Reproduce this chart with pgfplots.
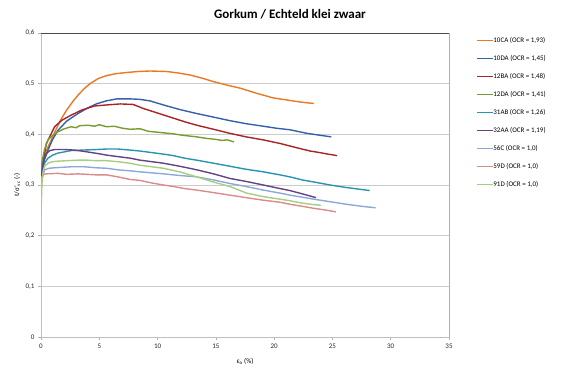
\documentclass[border=0pt]{standalone}
\usepackage{pgfplots}
\pgfplotsset{compat=1.18}
\usepackage{fontspec}
\setmainfont{Carlito}
\definecolor{cA}{RGB}{232,121,38}
\definecolor{cB}{RGB}{54,96,170}
\definecolor{cC}{RGB}{168,36,40}
\definecolor{cD}{RGB}{118,156,50}
\definecolor{cE}{RGB}{40,148,176}
\definecolor{cF}{RGB}{100,66,132}
\definecolor{cG}{RGB}{140,168,216}
\definecolor{cH}{RGB}{218,140,140}
\definecolor{cI}{RGB}{168,204,128}
\begin{document}
\begin{tikzpicture}[x=1pt,y=1pt]
\useasboundingbox (0,0) rectangle (581,377);
\node[font=\bfseries\fontsize{13}{15}\selectfont] at (290,363) {Gorkum / Echteld klei zwaar};
\begin{axis}[
  at={(41pt,40pt)}, anchor=south west,
  scale only axis, width=408pt, height=304pt,
  xmin=0, xmax=35, ymin=0, ymax=0.6,
  xtick={0,5,...,35}, ytick={0,0.1,0.2,0.3,0.4,0.5,0.6},
  /pgf/number format/assume math mode=true,
  /pgf/number format/use comma,
  yticklabel style={/pgf/number format/fixed, /pgf/number format/precision=1},
  ticklabel style={font=\fontsize{7}{8}\selectfont, text=black!85},
  ymajorgrids, grid style={gray!40, line width=0.8pt},
  axis line style={gray!50, line width=0.8pt},
  tick pos=left, tick align=outside, major tick length=3pt,
  tick style={gray!60, line width=0.6pt},
  xlabel={ε\textsubscript{a} (\%)},
  ylabel={t/σ'\textsubscript{vc} (-)},
  label style={font=\fontsize{7}{8}\selectfont},
  xlabel style={at={(axis description cs:0.5,-0.079)}, anchor=center},
  ylabel style={at={(axis description cs:-0.0588,0.5)}, anchor=center},
  legend style={at={(1.066,0.985)}, anchor=north west, draw=none, fill=none,
    inner sep=0pt, font=\fontsize{7}{8}\selectfont, row sep=12pt,
    nodes={inner sep=0pt, text height=5pt, text depth=1pt},
    /tikz/every even column/.append style={column sep=2pt}},
  legend cell align=left,
  legend image code/.code={\draw[#1, line width=1.3pt] (0pt,0pt) -- (16pt,0pt);},
  every axis plot/.append style={line width=1.4pt, mark=none, line join=round},
]
\addplot[cA] coordinates {(0,0.33) (0.15,0.35) (0.4,0.365) (0.74,0.382) (1.1,0.40) (1.6,0.425) (2.2,0.448) (2.77,0.466) (3.2,0.478) (3.7,0.490) (4.2,0.500) (4.9,0.510) (5.63,0.516) (6.5,0.520) (7.35,0.522) (8.3,0.524) (9.35,0.525) (10.8,0.524) (11.8,0.521) (12.8,0.517) (13.8,0.511) (14.8,0.504) (16,0.497) (17.1,0.491) (18.5,0.481) (19.9,0.472) (21.6,0.466) (22.5,0.463) (23.4,0.461)};
\addlegendentry{10CA (OCR = 1,93)}
\addplot[cB] coordinates {(0,0.31) (0.09,0.326) (0.3,0.35) (0.6,0.369) (1.0,0.39) (1.46,0.408) (2.2,0.426) (3.17,0.441) (4.0,0.452) (4.74,0.46) (5.6,0.466) (6.5,0.470) (7.63,0.470) (8.5,0.469) (9.35,0.466) (10.5,0.458) (11.9,0.449) (13.36,0.441) (14.8,0.434) (16.2,0.427) (17.6,0.421) (19.07,0.416) (20.2,0.412) (21.36,0.409) (22.8,0.402) (24.0,0.398) (24.9,0.395)};
\addlegendentry{10DA (OCR = 1,45)}
\addplot[cC] coordinates {(0,0.31) (0.09,0.336) (0.46,0.382) (1.17,0.415) (1.8,0.428) (2.6,0.438) (3.5,0.448) (4.6,0.456) (5.63,0.458) (6.8,0.460) (7.9,0.459) (8.78,0.451) (10,0.442) (11.35,0.432) (12.3,0.425) (13.36,0.418) (14.8,0.410) (16.2,0.402) (17.6,0.395) (19.07,0.389) (20.5,0.382) (21.36,0.377) (22.2,0.372) (23.1,0.367) (23.9,0.364) (24.6,0.361) (25.4,0.358)};
\addlegendentry{12BA (OCR = 1,48)}
\addplot[cD] coordinates {(0,0.32) (0.09,0.346) (0.3,0.37) (0.6,0.389) (1.0,0.398) (1.46,0.405) (2.0,0.411) (2.6,0.415) (3.0,0.413) (3.3,0.417) (4.03,0.418) (4.6,0.416) (5.0,0.419) (5.63,0.415) (6.3,0.416) (7.0,0.412) (7.63,0.41) (8.5,0.411) (9.2,0.406) (10.5,0.403) (11.35,0.401) (12.2,0.398) (13.36,0.395) (14.2,0.392) (15.0,0.390) (15.5,0.388) (16.0,0.389) (16.55,0.385)};
\addlegendentry{12DA (OCR = 1,41)}
\addplot[cE] coordinates {(0,0.30) (0.09,0.33) (0.3,0.343) (0.6,0.353) (1.0,0.359) (1.46,0.363) (2.6,0.368) (3.6,0.369) (4.74,0.370) (5.63,0.371) (6.6,0.371) (7.63,0.369) (8.5,0.367) (9.5,0.364) (10.5,0.361) (11.35,0.358) (12.3,0.353) (13.36,0.349) (14.8,0.343) (16.2,0.337) (17.6,0.331) (19.07,0.326) (20.5,0.320) (21.36,0.316) (22.4,0.310) (23.4,0.306) (24.8,0.300) (26.2,0.295) (27.2,0.292) (28.2,0.289)};
\addlegendentry{31AB (OCR = 1,26)}
\addplot[cF] coordinates {(0,0.30) (0.09,0.33) (0.25,0.35) (0.46,0.362) (0.77,0.368) (1.17,0.370) (2.03,0.370) (2.77,0.369) (3.5,0.367) (4.9,0.362) (5.63,0.359) (6.6,0.356) (7.63,0.353) (8.5,0.349) (9.5,0.346) (10.5,0.343) (11.9,0.337) (13.36,0.330) (14.8,0.322) (16.2,0.313) (17.6,0.307) (19.07,0.300) (20.5,0.293) (21.36,0.289) (22.5,0.282) (23.6,0.275)};
\addlegendentry{32AA (OCR = 1,19)}
\addplot[cG] coordinates {(0,0.29) (0.09,0.313) (0.31,0.33) (0.7,0.333) (1.17,0.334) (2.6,0.336) (3.7,0.336) (4.74,0.334) (5.63,0.333) (6.6,0.330) (7.63,0.328) (8.5,0.326) (9.5,0.324) (10.5,0.322) (11.35,0.320) (12.3,0.318) (13.36,0.316) (14.8,0.310) (16.2,0.303) (17.6,0.297) (19.07,0.290) (20.5,0.284) (21.36,0.280) (22.4,0.276) (23.4,0.272) (24.8,0.267) (26.2,0.262) (27.5,0.258) (28.7,0.255)};
\addlegendentry{56C (OCR = 1,0)}
\addplot[cH] coordinates {(0,0.29) (0.09,0.316) (0.25,0.321) (0.46,0.322) (1.46,0.323) (2.2,0.321) (3.17,0.322) (4.74,0.320) (5.63,0.320) (6.6,0.316) (7.63,0.311) (8.5,0.309) (9.5,0.304) (10.5,0.300) (11.35,0.297) (12.3,0.293) (13.36,0.290) (14.8,0.285) (16.2,0.280) (17.6,0.275) (19.07,0.270) (20.5,0.266) (21.36,0.262) (22.4,0.258) (23.4,0.254) (24.3,0.251) (25.3,0.247)};
\addlegendentry{59D (OCR = 1,0)}
\addplot[cI] coordinates {(0,0.24) (0.05,0.28) (0.09,0.31) (0.2,0.33) (0.35,0.338) (0.6,0.343) (1.0,0.346) (1.46,0.347) (2.2,0.348) (3.17,0.349) (4.0,0.349) (4.74,0.348) (5.63,0.348) (6.6,0.346) (7.63,0.343) (8.5,0.339) (9.5,0.336) (10.5,0.333) (11.9,0.326) (13.36,0.316) (14.78,0.306) (16.2,0.297) (17.64,0.284) (19.07,0.277) (20.5,0.272) (21.36,0.269) (22.2,0.265) (23.1,0.262) (24.0,0.26)};
\addlegendentry{91D (OCR = 1,0)}
\draw[gray!60!black, line width=0.8pt] (rel axis cs:0,1) -- (rel axis cs:1,1) -- (rel axis cs:1,0);
\end{axis}
\end{tikzpicture}
\end{document}
